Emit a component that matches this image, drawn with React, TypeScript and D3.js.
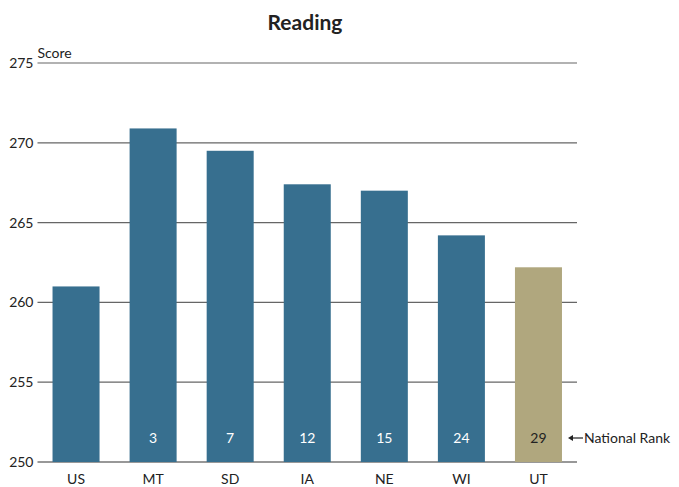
import React, { useEffect, useRef } from "react";
import * as d3 from "d3";

const states = ["US", "MT", "SD", "IA", "NE", "WI", "UT"];
const scores = [261.0, 270.9, 269.5, 267.4, 267.0, 264.2, 262.2];
const ranks = ["", "3", "7", "12", "15", "24", "29"];
const yTicks = [250, 255, 260, 265, 270, 275];

const App: React.FC = () => {
  const ref = useRef<SVGSVGElement | null>(null);

  useEffect(() => {
    if (!ref.current) return;
    const svg = d3.select(ref.current);
    svg.selectAll("*").remove();

    const width = 679;
    const height = 487;
    const margin = { top: 63, right: 102, bottom: 25, left: 37.5 };
    const font = "Lato, 'Open Sans', sans-serif";

    const x = d3
      .scaleBand()
      .domain(states)
      .range([margin.left, width - margin.right])
      .paddingInner(0.39)
      .paddingOuter(0.195);

    const y = d3
      .scaleLinear()
      .domain([250, 275])
      .range([height - margin.bottom, margin.top]);

    // grid lines
    svg
      .append("g")
      .selectAll("line")
      .data(yTicks)
      .join("line")
      .attr("x1", margin.left)
      .attr("x2", width - margin.right)
      .attr("y1", (d) => y(d))
      .attr("y2", (d) => y(d))
      .attr("stroke", (d) => (d === 250 ? "#333" : "#666"))
      .attr("stroke-width", 1.2);

    // y labels
    svg
      .append("g")
      .selectAll("text")
      .data(yTicks)
      .join("text")
      .attr("x", margin.left - 4)
      .attr("y", (d) => y(d) + 5)
      .attr("text-anchor", "end")
      .attr("font-family", font)
      .attr("font-size", 14)
      .attr("fill", "#222")
      .text((d) => d);

    // bars
    svg
      .append("g")
      .selectAll("rect")
      .data(states)
      .join("rect")
      .attr("x", (d) => x(d)!)
      .attr("y", (d, i) => y(scores[i]))
      .attr("width", x.bandwidth())
      .attr("height", (d, i) => y(250) - y(scores[i]))
      .attr("fill", (d) => (d === "UT" ? "#b0a77e" : "#376f8f"));

    // rank labels
    svg
      .append("g")
      .selectAll("text")
      .data(states)
      .join("text")
      .attr("x", (d) => x(d)! + x.bandwidth() / 2)
      .attr("y", y(250) - 19)
      .attr("text-anchor", "middle")
      .attr("font-family", font)
      .attr("font-size", 14)
      .attr("fill", (d) => (d === "UT" ? "#222" : "#fff"))
      .text((d, i) => ranks[i]);

    // x labels
    svg
      .append("g")
      .selectAll("text")
      .data(states)
      .join("text")
      .attr("x", (d) => x(d)! + x.bandwidth() / 2)
      .attr("y", y(250) + 22)
      .attr("text-anchor", "middle")
      .attr("font-family", font)
      .attr("font-size", 14)
      .attr("fill", "#222")
      .text((d) => d);

    // national rank note
    const noteY = y(250) - 24;
    svg
      .append("line")
      .attr("x1", width - margin.right - 7)
      .attr("x2", width - margin.right + 6)
      .attr("y1", noteY)
      .attr("y2", noteY)
      .attr("stroke", "#222")
      .attr("stroke-width", 1.2);
    svg
      .append("path")
      .attr(
        "d",
        `M${width - margin.right - 9},${noteY} l5,-3 l0,6 z`
      )
      .attr("fill", "#222");
    svg
      .append("text")
      .attr("x", width - margin.right + 7)
      .attr("y", noteY + 5)
      .attr("font-family", font)
      .attr("font-size", 14)
      .attr("fill", "#222")
      .text("National Rank");

    // axis title
    svg
      .append("text")
      .attr("x", margin.left)
      .attr("y", margin.top - 5)
      .attr("font-family", font)
      .attr("font-size", 14)
      .attr("fill", "#222")
      .text("Score");

    // title
    svg
      .append("text")
      .attr("x", 305)
      .attr("y", 30)
      .attr("text-anchor", "middle")
      .attr("font-family", font)
      .attr("font-weight", "bold")
      .attr("font-size", 21)
      .attr("fill", "#222")
      .text("Reading");
  }, []);

  return (
    <svg
      ref={ref}
      width={679}
      height={487}
      style={{ position: "absolute", left: 0, top: 0 }}
    ></svg>
  );
};

export default App;
